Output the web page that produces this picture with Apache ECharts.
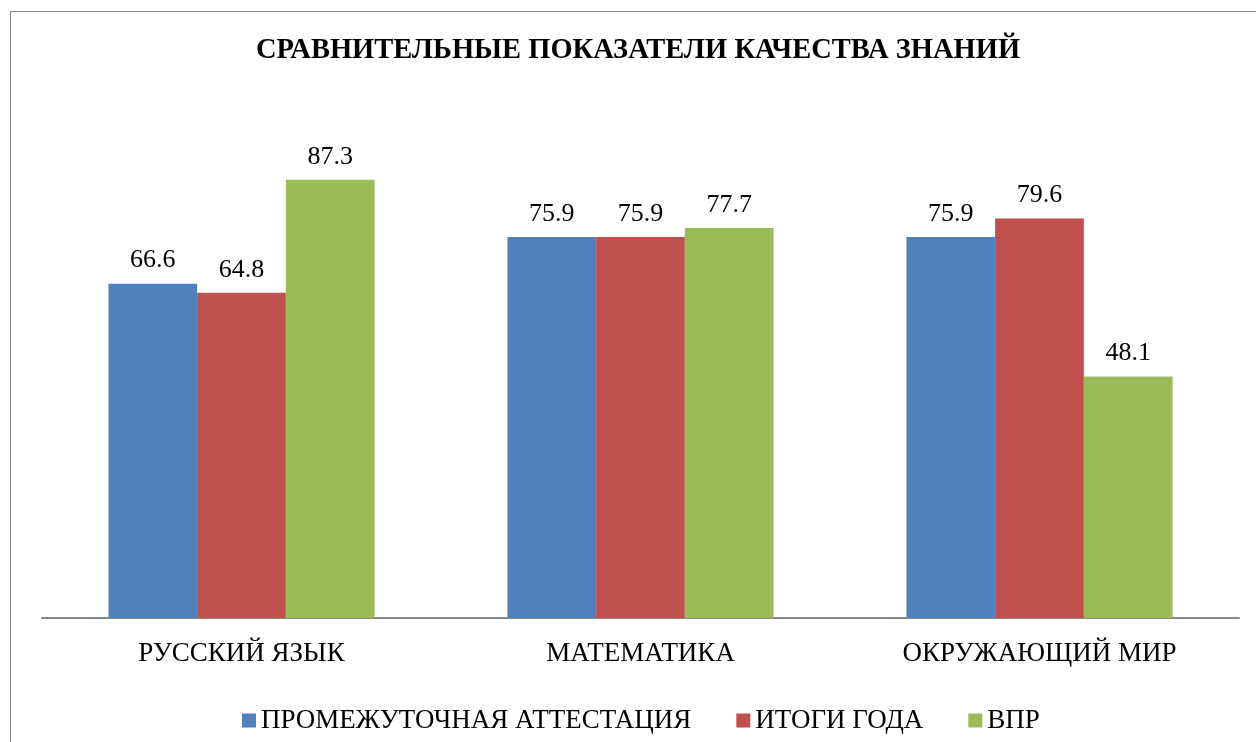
<!DOCTYPE html>
<html>
<head>
<meta charset="utf-8">
<script src="https://cdn.jsdelivr.net/npm/echarts@6/dist/echarts.min.js"></script>
<style>
  html, body { margin: 0; padding: 0; background: #fff; overflow: hidden; }
  .frame { position: absolute; left: 10px; top: 11px; width: 1300px; height: 800px; border: 1px solid #8a8a8a; }
  #chart { position: absolute; left: 0; top: 0; width: 1256px; height: 742px; }
</style>
</head>
<body>
<div class="frame"></div>
<div id="chart"></div>
<script>
  var subjects = ['РУССКИЙ ЯЗЫК', 'МАТЕМАТИКА', 'ОКРУЖАЮЩИЙ МИР']
  var seriesNames = ['ПРОМЕЖУТОЧНАЯ АТТЕСТАЦИЯ', 'ИТОГИ ГОДА', 'ВПР']
  var attestation = [66.6, 75.9, 75.9]
  var yearResults = [64.8, 75.9, 79.6]
  var vpr = [87.3, 77.7, 48.1]

  var font = '"Liberation Serif", "Times New Roman", serif'
  var colors = ['#4F81BD', '#C0504D', '#9BBB59']

  function makeSeries (name, data) {
    return {
      name: name,
      type: 'bar',
      data: data,
      barGap: '0%',
      barCategoryGap: '33.3%',
      label: {
        show: true,
        position: 'top',
        distance: 10,
        color: '#000',
        fontFamily: font,
        fontSize: 26,
        formatter: function (p) {
          return p.value.toFixed(1)
        }
      }
    }
  }

  var chart = echarts.init(document.getElementById('chart'))
  chart.setOption({
    animation: false,
    color: colors,
    title: {
      text: 'СРАВНИТЕЛЬНЫЕ ПОКАЗАТЕЛИ КАЧЕСТВА ЗНАНИЙ',
      left: 633,
      top: 31,
      textAlign: 'center',
      textStyle: {
        fontFamily: font,
        fontWeight: 'bold',
        fontSize: 28.5,
        color: '#000'
      }
    },
    legend: {
      data: seriesNames,
      left: 242,
      top: 707,
      padding: 0,
      icon: 'rect',
      itemWidth: 14,
      itemHeight: 14,
      itemGap: 45,
      textStyle: {
        fontFamily: font,
        fontSize: 27,
        color: '#000'
      }
    },
    grid: {
      left: 42,
      right: 17,
      top: 116,
      bottom: 124
    },
    xAxis: {
      type: 'category',
      data: subjects,
      axisTick: { show: false },
      axisLine: {
        lineStyle: { color: '#868686', width: 2 }
      },
      axisLabel: {
        margin: 22,
        color: '#000',
        fontFamily: font,
        fontSize: 27
      }
    },
    yAxis: {
      type: 'value',
      min: 0,
      max: 100,
      show: false,
      splitLine: { show: false }
    },
    series: [
      makeSeries(seriesNames[0], attestation),
      makeSeries(seriesNames[1], yearResults),
      makeSeries(seriesNames[2], vpr)
    ]
  })
</script>
</body>
</html>
